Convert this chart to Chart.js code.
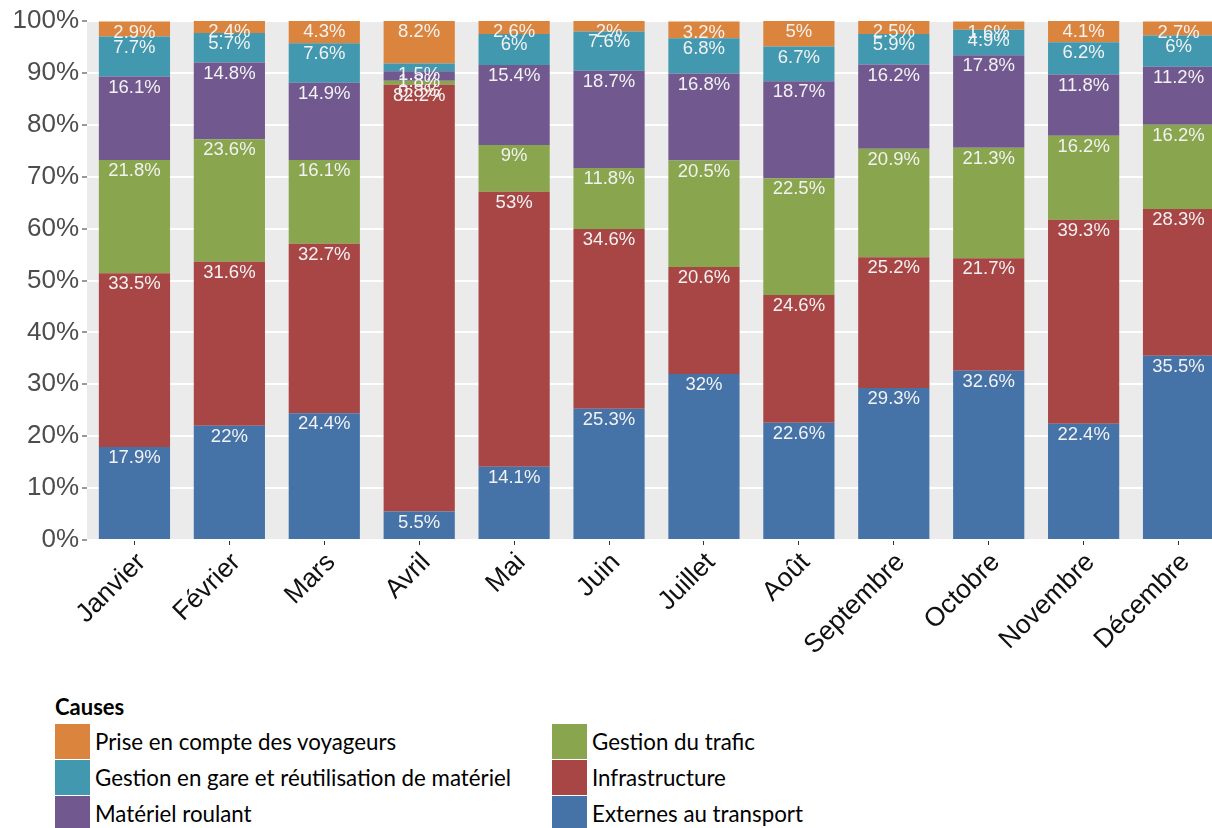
<!DOCTYPE html>
<html>
<head>
<meta charset="utf-8">
<script src="https://cdn.jsdelivr.net/npm/chart.js@4"></script>
<style>
    body { margin: 0; background: #fff; overflow: hidden; width: 1212px; height: 828px; position: relative; }
    #chartBox { position: absolute; left: 0; top: 0; width: 1226px; height: 680px; }
    #legend { position: absolute; left: 55px; top: 692px; font-family: Lato, 'Open Sans', sans-serif; color: #000; }
    #legend .title { font-weight: bold; font-size: 22px; height: 30px; line-height: 30px; }
    #legend .item { position: absolute; height: 36px; line-height: 36px; font-size: 22.3px; white-space: nowrap; }
    #legend .sw { display: inline-block; width: 35px; height: 35px; vertical-align: top; margin-right: 5px; }
</style>
</head>
<body>
<div id="chartBox"><canvas id="causesChart" width="1226" height="680"></canvas></div>
<div id="legend"></div>
<script>
const months = ['Janvier', 'Février', 'Mars', 'Avril', 'Mai', 'Juin', 'Juillet', 'Août', 'Septembre', 'Octobre', 'Novembre', 'Décembre'];

// bottom to top
const externes = [17.9, 22, 24.4, 5.5, 14.1, 25.3, 32, 22.6, 29.3, 32.6, 22.4, 35.5];
const infrastructure = [33.5, 31.6, 32.7, 82.2, 53, 34.6, 20.6, 24.6, 25.2, 21.7, 39.3, 28.3];
const trafic = [21.8, 23.6, 16.1, 0.8, 9, 11.8, 20.5, 22.5, 20.9, 21.3, 16.2, 16.2];
const materiel = [16.1, 14.8, 14.9, 1.8, 15.4, 18.7, 16.8, 18.7, 16.2, 17.8, 11.8, 11.2];
const gare = [7.7, 5.7, 7.6, 1.5, 6, 7.6, 6.8, 6.7, 5.9, 4.9, 6.2, 6];
const voyageurs = [2.9, 2.4, 4.3, 8.2, 2.6, 2, 3.2, 5, 2.5, 1.6, 4.1, 2.7];

const yTicks = [0, 10, 20, 30, 40, 50, 60, 70, 80, 90, 100];

const series = [
    { label: 'Externes au transport', data: externes, color: '#4572A7' },
    { label: 'Infrastructure', data: infrastructure, color: '#A84645' },
    { label: 'Gestion du trafic', data: trafic, color: '#89A54E' },
    { label: 'Matériel roulant', data: materiel, color: '#71588F' },
    { label: 'Gestion en gare et réutilisation de matériel', data: gare, color: '#4198AF' },
    { label: 'Prise en compte des voyageurs', data: voyageurs, color: '#DB843D' }
];

// legend order in the picture (column by column)
const legendOrder = [5, 4, 3, 2, 1, 0];

const panelBg = {
    id: 'panelBg',
    beforeDraw(chart) {
        const a = chart.chartArea;
        const c = chart.ctx;
        c.save();
        c.fillStyle = '#EBEBEB';
        c.fillRect(a.left, a.top, a.right - a.left, a.bottom - a.top);
        c.restore();
    }
};

const barLabels = {
    id: 'barLabels',
    afterDatasetsDraw(chart) {
        const c = chart.ctx;
        c.save();
        c.font = '18.5px "Liberation Sans", Arial, sans-serif';
        c.fillStyle = '#F2F2F2';
        c.textAlign = 'center';
        c.textBaseline = 'middle';
        chart.data.datasets.forEach((ds, i) => {
            chart.getDatasetMeta(i).data.forEach((bar, j) => {
                c.fillText(ds.data[j] + '%', bar.x, bar.y + 11);
            });
        });
        c.restore();
    }
};

const ctx = document.getElementById('causesChart').getContext('2d');

const causesChart = new Chart(ctx, {
    type: 'bar',
    data: {
        labels: months,
        datasets: series.map(s => ({
            label: s.label,
            data: s.data,
            backgroundColor: s.color,
            borderWidth: 0,
            categoryPercentage: 1,
            barPercentage: 0.75
        }))
    },
    options: {
        responsive: false,
        animation: false,
        layout: { padding: { top: 21, left: 0, right: 0, bottom: 0 } },
        plugins: {
            legend: { display: false },
            tooltip: { enabled: false }
        },
        scales: {
            x: {
                stacked: true,
                offset: true,
                afterFit(scale) { scale.height = 140; },
                grid: {
                    offset: false,
                    drawOnChartArea: false,
                    tickColor: '#333333',
                    tickLength: 5,
                    tickWidth: 1
                },
                border: { display: false },
                ticks: {
                    minRotation: 45,
                    maxRotation: 45,
                    padding: 2,
                    labelOffset: 7,
                    color: '#111111',
                    font: { size: 26.5, family: '"Liberation Sans", Arial, sans-serif' }
                }
            },
            y: {
                stacked: true,
                min: 0,
                max: 100,
                afterFit(scale) { scale.width = 87; },
                afterBuildTicks(scale) {
                    const t = [];
                    for (let v = 0; v <= 100; v += 5) t.push({ value: v });
                    scale.ticks = t;
                },
                grid: {
                    color: c => yTicks.includes(c.tick.value) ? '#FFFFFF' : '#F5F5F5',
                    lineWidth: c => yTicks.includes(c.tick.value) ? 2 : 1,
                    tickColor: c => yTicks.includes(c.tick.value) ? '#333333' : 'rgba(0,0,0,0)',
                    tickLength: 5,
                    tickWidth: 1
                },
                border: { display: false },
                ticks: {
                    padding: 3,
                    color: '#4D4D4D',
                    font: { size: 26, family: '"Liberation Sans", Arial, sans-serif' },
                    callback: v => yTicks.includes(v) ? v + '%' : ''
                }
            }
        }
    },
    plugins: [panelBg, barLabels]
});

// LEGEND
const legend = document.getElementById('legend');
legend.innerHTML = '<div class="title">Causes</div>';
legendOrder.forEach((idx, k) => {
    const s = series[idx];
    const col = Math.floor(k / 3);
    const row = k % 3;
    const item = document.createElement('div');
    item.className = 'item';
    item.style.left = (col * 497) + 'px';
    item.style.top = (32 + row * 36) + 'px';
    item.innerHTML = '<span class="sw" style="background:' + s.color + '"></span>' + s.label;
    legend.appendChild(item);
});
</script>
</body>
</html>
